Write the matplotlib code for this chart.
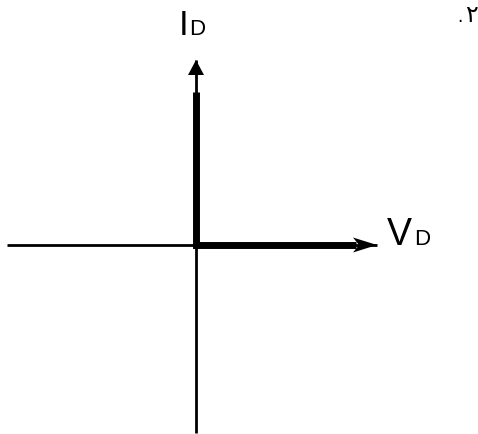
import matplotlib
matplotlib.use("Agg")
import matplotlib.pyplot as plt

# ideal diode I-V sketch, units are arbitrary (origin at 0, 0)
v_axis = [-189, 181]      # horizontal axis extent (V_D)
i_axis = [-188, 185]      # vertical axis extent (I_D)
diode_v = [0, 0, 160]     # characteristic: vertical branch then forward branch
diode_i = [153, 0, 0]
labels = {"x": ("V", "D"), "y": ("I", "D")}
page_number = "\u0662"

fig = plt.figure(figsize=(4.78, 4.34), dpi=100)
ax = fig.add_axes([0, 0, 1, 1])
ax.set_xlim(-196, 282)
ax.set_ylim(-189, 245)
ax.set_axis_off()

# axes lines
ax.plot(v_axis, [0, 0], color="black", lw=2.0, solid_capstyle="butt")
ax.plot([0, 0], i_axis, color="black", lw=2.0, solid_capstyle="butt")

# arrow heads at the axis ends
ax.arrow(0, i_axis[1] - 15, 0, 15, width=0, head_width=16, head_length=15,
         length_includes_head=True, color="black", lw=0)
ax.arrow(v_axis[1] - 24, 0, 24, 0, width=0, head_width=15, head_length=24,
         length_includes_head=True, overhang=0.25, color="black", lw=0)

# diode characteristic (thick)
ax.plot(diode_v, diode_i, color="black", lw=5, solid_joinstyle="miter",
        solid_capstyle="butt")

lat = dict(family="Liberation Sans", color="black", va="baseline", ha="left")
ax.text(-17, 210, labels["y"][0], fontsize=25, **lat)
ax.text(-7, 210, labels["y"][1], fontsize=16, **lat)
ax.text(191, 0, labels["x"][0], fontsize=27, **lat)
ax.text(218, 0, labels["x"][1], fontsize=16, **lat)

ax.text(261, 223, ".", fontsize=12, family="DejaVu Sans", ha="left", va="baseline")
ax.text(269, 223, page_number, fontsize=17, family="DejaVu Sans", ha="left", va="baseline")

fig.savefig("out.png", dpi=100, facecolor="white")
